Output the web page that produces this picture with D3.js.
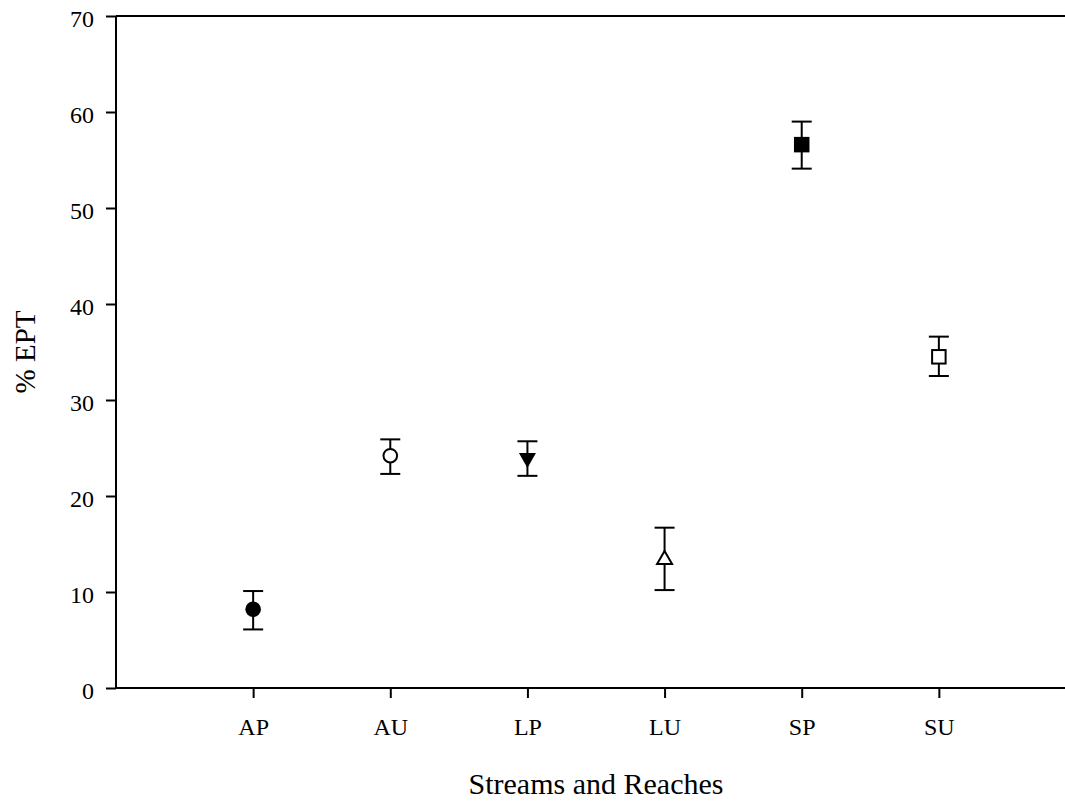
<!DOCTYPE html>
<html><head><meta charset="utf-8">
<script src="https://cdn.jsdelivr.net/npm/d3@7"></script>
<style>body{margin:0;background:#fff}svg{display:block}</style>
</head><body>
<script>
const categories = ["AP","AU","LP","LU","SP","SU"];
const means = [8.2, 24.2, 23.7, 13.6, 56.6, 34.5];
const lower = [6.1, 22.3, 22.1, 10.2, 54.1, 32.5];
const upper = [10.1, 25.9, 25.7, 16.7, 59.0, 36.6];
const markers = ["circleFilled","circleOpen","triDownFilled","triUpOpen","squareFilled","squareOpen"];
const yTicks = [0,10,20,30,40,50,60,70];

const W = 1065, H = 804;
const svg = d3.select("body").append("svg").attr("width", W).attr("height", H);
const font = "'Liberation Serif','Times New Roman',serif";

const x = d3.scaleLinear().domain([0, 7]).range([116, 1076]);
const y = d3.scaleLinear().domain([0, 70]).range([688, 16]);

// Top frame line
svg.append("line").attr("x1", 116).attr("x2", 1076).attr("y1", 16).attr("y2", 16)
  .attr("stroke", "#000").attr("stroke-width", 2);

// Y axis
const yAxis = svg.append("g").attr("transform", "translate(116,0)")
  .call(d3.axisLeft(y).tickValues(yTicks).tickSize(10).tickPadding(12).tickFormat(d3.format("d")));
// X axis
const xAxis = svg.append("g").attr("transform", "translate(0,688)")
  .call(d3.axisBottom(x).tickValues(categories.map((c,i)=>i+1)).tickSize(10).tickPadding(20)
    .tickFormat((d)=>categories[d-1]));
[yAxis, xAxis].forEach(g => {
  g.select(".domain").attr("stroke", "#000").attr("stroke-width", 2);
  g.selectAll(".tick line").attr("stroke", "#000").attr("stroke-width", 2);
  g.selectAll(".tick text").attr("font-family", font).attr("font-size", 24).attr("fill", "#000");
});
yAxis.selectAll(".tick text").attr("dy", "0.45em");
xAxis.select(".domain").attr("d", "M116,0H1076");
yAxis.select(".domain").attr("d", "M0,16V688");

// Error bars
const eb = svg.append("g").attr("stroke", "#000").attr("stroke-width", 2);
categories.forEach((c, i) => {
  const cx = x(i + 1);
  eb.append("line").attr("x1", cx).attr("x2", cx).attr("y1", y(lower[i])).attr("y2", y(upper[i]));
  eb.append("line").attr("x1", cx - 10).attr("x2", cx + 10).attr("y1", y(upper[i])).attr("y2", y(upper[i]));
  eb.append("line").attr("x1", cx - 10).attr("x2", cx + 10).attr("y1", y(lower[i])).attr("y2", y(lower[i]));
});

// Markers
const mk = svg.append("g");
categories.forEach((c, i) => {
  const cx = x(i + 1), cy = y(means[i]);
  const m = markers[i];
  const filled = m.endsWith("Filled");
  let el;
  if (m.startsWith("circle")) {
    el = mk.append("circle").attr("cx", cx).attr("cy", cy).attr("r", filled ? 7.8 : 6.8);
  } else if (m.startsWith("square")) {
    const s = filled ? 15.5 : 13.5;
    el = mk.append("rect").attr("x", cx - s/2).attr("y", cy - s/2).attr("width", s).attr("height", s);
  } else if (m.startsWith("triDown")) {
    el = mk.append("path").attr("d", `M${cx-8.5},${cy-7.5}L${cx+8.5},${cy-7.5}L${cx},${cy+7.5}Z`);
  } else {
    el = mk.append("path").attr("d", `M${cx-7.5},${cy+6.5}L${cx+7.5},${cy+6.5}L${cx},${cy-6.5}Z`);
  }
  el.attr("fill", filled ? "#000" : "#fff").attr("stroke", "#000").attr("stroke-width", filled ? 0 : 2);
});

// Axis titles
svg.append("text").attr("x", 596).attr("y", 794).attr("text-anchor", "middle")
  .attr("font-family", font).attr("font-size", 30).attr("fill", "#000").text("Streams and Reaches");
svg.append("text").attr("transform", "translate(35,352) rotate(-90)").attr("text-anchor", "middle")
  .attr("font-family", font).attr("font-size", 29).attr("fill", "#000").text("% EPT");
</script>
</body></html>
